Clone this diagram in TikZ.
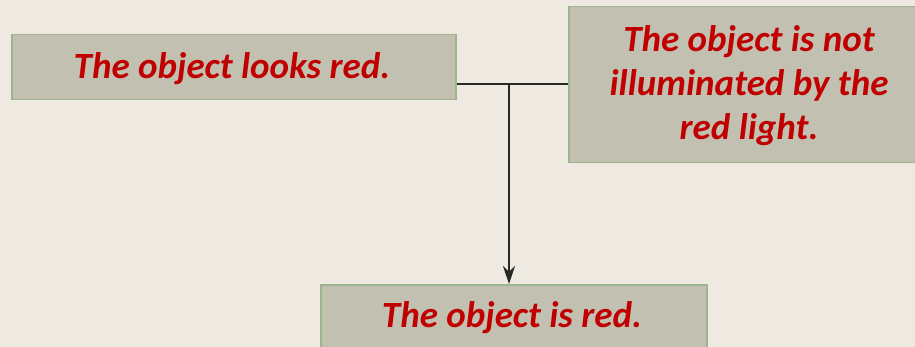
\documentclass[tikz,border=0pt]{standalone}
\usepackage{fontspec}
\setmainfont{Carlito}
\usetikzlibrary{arrows.meta}
\definecolor{bg}{HTML}{EEEAE1}
\definecolor{boxfill}{HTML}{C2C0B0}
\definecolor{boxline}{HTML}{9DB48C}
\definecolor{txt}{HTML}{C00000}
\definecolor{conn}{HTML}{262A20}
\tikzset{
  cbox/.style={draw=boxline, line width=1.5pt, fill=boxfill, inner sep=0pt},
  ctext/.style={text=txt, font=\fontsize{37}{44}\selectfont\bfseries\itshape, align=center, inner sep=0pt},
  conn/.style={draw=conn, line width=1.3pt}
}
\begin{document}
\begin{tikzpicture}[x=1pt,y=-1pt]
\fill[bg] (0,0) rectangle (915,347);
\useasboundingbox (0,0) rectangle (915,347);
\node[cbox, minimum width=444pt, minimum height=65pt, anchor=north west] (a) at (11,34) {};
\node[ctext, anchor=base] (at) at (232,79) {The object looks red.};
\node[cbox, minimum width=360pt, minimum height=156pt, anchor=north west] (b) at (568,6) {};
\node[ctext, anchor=base] (bt) at (749,140) {The object is not\\illuminated by the\\red light.};
\node[cbox, minimum width=386pt, minimum height=80pt, anchor=north west] (c) at (320,284) {};
\node[ctext, anchor=base] (ct) at (512,327) {The object is red.};
\coordinate (j) at (509,84);
\draw[conn] (a.east |- j) -- (b.west |- j);
\draw[conn, -{Stealth[length=18pt,width=12pt,inset=6pt]}] (j) -- (c.north -| j);
\end{tikzpicture}
\end{document}
